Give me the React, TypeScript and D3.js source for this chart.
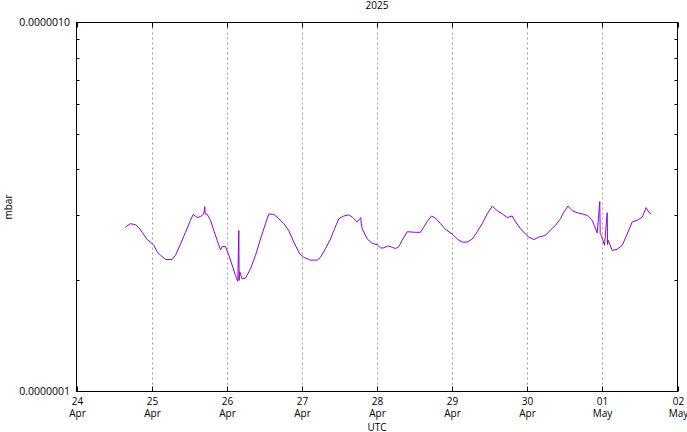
import * as d3 from 'd3';

// hours since 2025-04-24 00:00 UTC
const hours = [
  15.65, 17.25, 18.85, 19.9, 20.99, 22.59, 23.64, 24.7, 25.78, 26.84,
  28.44, 30.57, 31.63, 33.23, 34.82, 36.42, 37.28, 38.56, 39.61, 40.67,
  40.99, 41.1, 41.75, 42.81, 43.86, 44.95, 46.0, 46.55, 47.6, 48.66,
  49.74, 50.8, 51.53, 51.85, 51.95, 52.17, 52.94, 53.99, 55.59, 57.19,
  58.78, 60.38, 61.44, 63.03, 64.63, 66.23, 67.82, 69.42, 71.34, 72.62,
  74.76, 76.9, 77.95, 79.55, 81.15, 82.2, 83.8, 85.4, 87.0, 88.08,
  89.68, 90.83, 90.95, 91.28, 92.88, 94.48, 96.06, 97.12, 98.18, 99.45,
  100.86, 101.91, 102.97, 104.05, 105.65, 108.3, 109.9, 110.96, 112.04, 113.42,
  114.69, 116.29, 117.89, 120.03, 121.63, 123.22, 124.82, 126.42, 128.02, 129.61,
  131.21, 132.81, 134.41, 136.01, 137.6, 139.2, 140.26, 141.85, 143.45, 144.5,
  146.1, 147.7, 149.84, 151.43, 153.03, 154.63, 155.68, 156.96, 158.37, 159.96,
  161.56, 163.16, 164.76, 166.35, 167.18, 167.3, 167.63, 168.68, 169.54, 169.65,
  169.86, 171.14, 172.74, 174.34, 175.93, 177.53, 179.13, 180.73, 182.01, 182.84,
  183.6,
];

const pressure = [
  2.79e-7, 2.85e-7, 2.83e-7, 2.78e-7, 2.70e-7, 2.58e-7, 2.54e-7, 2.49e-7, 2.39e-7, 2.34e-7,
  2.28e-7, 2.28e-7, 2.34e-7, 2.51e-7, 2.70e-7, 2.91e-7, 3.02e-7, 2.96e-7, 2.98e-7, 3.03e-7,
  3.17e-7, 3.03e-7, 3.02e-7, 2.91e-7, 2.73e-7, 2.57e-7, 2.42e-7, 2.47e-7, 2.47e-7, 2.34e-7,
  2.20e-7, 2.06e-7, 1.99e-7, 2.73e-7, 2.0e-7, 2.11e-7, 2.02e-7, 2.03e-7, 2.15e-7, 2.34e-7,
  2.59e-7, 2.85e-7, 3.03e-7, 3.02e-7, 2.94e-7, 2.85e-7, 2.73e-7, 2.54e-7, 2.36e-7, 2.31e-7,
  2.27e-7, 2.27e-7, 2.31e-7, 2.44e-7, 2.59e-7, 2.73e-7, 2.94e-7, 2.99e-7, 3.01e-7, 2.97e-7,
  2.88e-7, 2.96e-7, 2.86e-7, 2.76e-7, 2.59e-7, 2.52e-7, 2.50e-7, 2.45e-7, 2.45e-7, 2.48e-7,
  2.46e-7, 2.44e-7, 2.47e-7, 2.57e-7, 2.71e-7, 2.70e-7, 2.70e-7, 2.79e-7, 2.89e-7, 2.99e-7,
  2.95e-7, 2.85e-7, 2.75e-7, 2.67e-7, 2.59e-7, 2.54e-7, 2.54e-7, 2.59e-7, 2.71e-7, 2.85e-7,
  3.03e-7, 3.18e-7, 3.09e-7, 3.03e-7, 2.96e-7, 2.99e-7, 2.88e-7, 2.76e-7, 2.67e-7, 2.62e-7,
  2.58e-7, 2.62e-7, 2.65e-7, 2.74e-7, 2.82e-7, 2.94e-7, 3.06e-7, 3.18e-7, 3.09e-7, 3.05e-7,
  3.03e-7, 3.00e-7, 2.91e-7, 2.69e-7, 3.27e-7, 2.68e-7, 2.65e-7, 2.49e-7, 3.05e-7, 2.50e-7,
  2.57e-7, 2.41e-7, 2.43e-7, 2.49e-7, 2.67e-7, 2.88e-7, 2.91e-7, 2.97e-7, 3.15e-7, 3.06e-7,
  3.03e-7,
];

const dayTicks = ['2025-04-24', '2025-04-25', '2025-04-26', '2025-04-27', '2025-04-28', '2025-04-29', '2025-04-30', '2025-05-01', '2025-05-02'];
const dayNums = ['24', '25', '26', '27', '28', '29', '30', '01', '02'];
const monthNames = ['Apr', 'Apr', 'Apr', 'Apr', 'Apr', 'Apr', 'Apr', 'May', 'May'];
const yMajor = [1e-7, 1e-6];
const yMajorLabels = ['0.0000001', '0.0000010'];
const yMinor = [2e-7, 3e-7, 4e-7, 5e-7, 6e-7, 7e-7, 8e-7, 9e-7];

const W = 687;
const H = 432;
const m = { left: 76.5, right: 677.5, top: 22.5, bottom: 391.5 };
const font = "'Open Sans', 'Noto Sans', sans-serif";

export default function App() {
  const start = new Date(Date.UTC(2025, 3, 24));
  const x = d3.scaleUtc()
    .domain([start, new Date(Date.UTC(2025, 4, 2))])
    .range([m.left, m.right]);
  const y = d3.scaleLog().domain([1e-7, 1e-6]).range([m.bottom, m.top]);

  const data = hours.map((h, i) => ({ t: new Date(start.getTime() + h * 3600e3), v: pressure[i] }));
  const line = d3.line<{ t: Date; v: number }>()
    .x(d => x(d.t))
    .y(d => y(d.v));

  const days = dayTicks.map(s => new Date(s + 'T00:00:00Z'));

  return (
    <svg width={W} height={H} style={{ position: 'absolute', left: 0, top: 0, background: '#fff' }} fontFamily={font}>
      {/* vertical grid */}
      {days.slice(1, -1).map((d, i) => (
        <line key={'g' + i} x1={Math.round(x(d)) + 0.5} x2={Math.round(x(d)) + 0.5} y1={m.top} y2={m.bottom}
          stroke="#a0a0a0" strokeWidth={1} strokeDasharray="2,3" />
      ))}
      {/* x ticks */}
      {days.map((d, i) => {
        const px = Math.round(x(d)) + 0.5;
        return (
          <g key={'xt' + i}>
            <line x1={px} x2={px} y1={m.bottom} y2={m.bottom - 5} stroke="#000" />
            <line x1={px} x2={px} y1={m.top} y2={m.top + 5} stroke="#000" />
            <text x={px} y={405} textAnchor="middle" fontSize={10} fill="#000">{dayNums[i]}</text>
            <text x={px} y={417} textAnchor="middle" fontSize={10} fill="#000">{monthNames[i]}</text>
          </g>
        );
      })}
      {/* y minor ticks */}
      {yMinor.map((v, i) => {
        const py = Math.round(y(v)) + 0.5;
        return (
          <g key={'ym' + i}>
            <line x1={m.left} x2={m.left + 3} y1={py} y2={py} stroke="#000" />
            <line x1={m.right} x2={m.right - 3} y1={py} y2={py} stroke="#000" />
          </g>
        );
      })}
      {yMajor.map((v, i) => (
        <text key={'yl' + i} x={70} y={y(v) + 3.5} textAnchor="end" fontSize={10.5} fill="#000">{yMajorLabels[i]}</text>
      ))}
      {/* data */}
      <path d={line(data) ?? ''} fill="none" stroke="#9400d3" strokeWidth={1} strokeLinejoin="miter" />
      {/* border */}
      <rect x={m.left} y={m.top} width={m.right - m.left} height={m.bottom - m.top} fill="none" stroke="#000" strokeWidth={1} />
      <text x={(m.left + m.right) / 2} y={9} textAnchor="middle" fontSize={10} fill="#000">2025</text>
      <text x={(m.left + m.right) / 2} y={431} textAnchor="middle" fontSize={10} fill="#000">UTC</text>
      <text transform={`translate(12, ${(m.top + m.bottom) / 2}) rotate(-90)`} textAnchor="middle" fontSize={10} fill="#000">mbar</text>
    </svg>
  );
}
